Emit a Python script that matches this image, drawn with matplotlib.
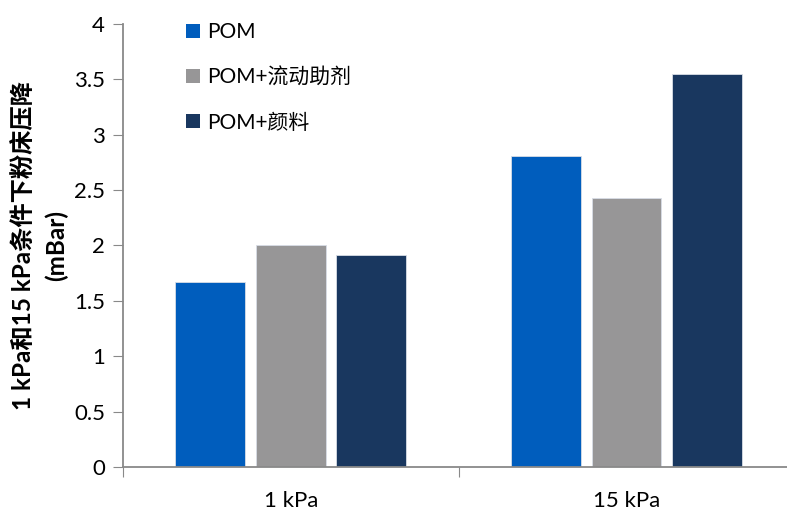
import numpy as np
import matplotlib.pyplot as plt
from matplotlib.patches import Patch

plt.rcParams['font.family'] = ['Lato', 'Noto Sans CJK SC', 'DejaVu Sans']

# data
groups = ['1 kPa', '15 kPa']
series = ['POM', 'POM+流动助剂', 'POM+颜料']
pom = [1.67, 2.81]
pom_flow = [2.00, 2.43]
pom_pigment = [1.91, 3.55]
colors = ['#005dbd', '#979697', '#19375f']
yticks = [0, 0.5, 1, 1.5, 2, 2.5, 3, 3.5, 4]

fig = plt.figure(figsize=(7.87, 5.11), dpi=100)
ax = fig.add_axes([0.1563, 0.0861, 0.853, 0.867])

ind = np.arange(len(groups))
bar_width = 0.208
step = 0.24
for i, (vals, c) in enumerate(zip([pom, pom_flow, pom_pigment], colors)):
    ax.bar(ind + (i - 1) * step, vals, bar_width, color=c,
           edgecolor='#d8dde6', linewidth=0.6, label=series[i])

ax.set_xlim(-0.5, 1.5)
ax.set_ylim(0, 4)
ax.set_yticks(yticks)
ax.set_yticklabels([f'{t:g}' for t in yticks], fontsize=16)
ax.set_xticks([-0.5, 0.5, 1.5])
ax.set_xticklabels(['', '', ''])
ax.set_xticks(ind, minor=True)
ax.set_xticklabels(groups, minor=True, fontsize=16)
ax.tick_params(axis='x', which='minor', length=0, pad=17)
ax.tick_params(axis='x', which='major', length=7, color='#898989', direction='out')
ax.tick_params(axis='y', length=7, color='#898989', direction='out', pad=6)

for s in ['top', 'right']:
    ax.spines[s].set_visible(False)
for s in ['left', 'bottom']:
    ax.spines[s].set_color('#898989')
    ax.spines[s].set_linewidth(1.3)

ax.set_ylabel('1 kPa和15 kPa条件下粉床压降\n(mBar)', fontsize=17.5,
              fontweight='bold', labelpad=4, linespacing=1.5)

handles = [Patch(facecolor=c, label=s) for c, s in zip(colors, series)]
ax.legend(handles=handles, loc='upper left', bbox_to_anchor=(0.066, 1.047),
          frameon=False, fontsize=15, handlelength=0.65, handleheight=0.65,
          handletextpad=0.35, labelspacing=1.22)

fig.savefig('out.png', dpi=100)
